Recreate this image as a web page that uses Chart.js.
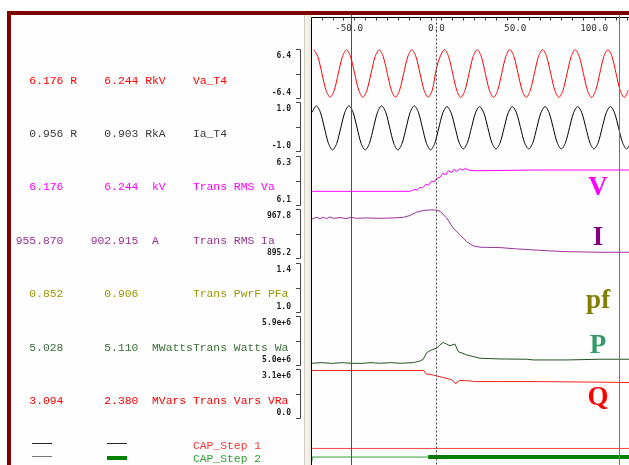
<!DOCTYPE html>
<html>
<head>
<meta charset="utf-8">
<script src="https://cdn.jsdelivr.net/npm/chart.js@4.4.1/dist/chart.umd.min.js"></script>
<style>
  html, body { margin: 0; padding: 0; background: #fff; }
  body { width: 629px; height: 465px; overflow: hidden; position: relative; }
  #frame { position: absolute; left: 7px; top: 11px; width: 640px; height: 470px;
           border-top: 4px solid #800000; border-left: 4px solid #800000; background: #fefefe; }
  #splitter { position: absolute; left: 304px; top: 15px; width: 7.5px; height: 460px;
              background: linear-gradient(to right, #cfcbbf 0, #cfcbbf 1px, #f7f5ee 1px, #ebe8dc 100%); }
  #plot { position: absolute; left: 0; top: 0; }
  .row { position: absolute; left: 15.7px; font-family: 'Liberation Mono', monospace; font-size: 11.37px;
         line-height: 12px; white-space: pre; }
  .mark { position: absolute; }
</style>
</head>
<body>
<div id="frame"></div>
<div id="splitter"></div>
<canvas id="plot" width="629" height="480"></canvas>
<div id="legend"></div>
<script>
// time axis (ms)
const xMin = -76.1, xMax = 117.9;
const xTickLabels = [-50, 0, 50, 100];
const cursorTimes = [-52.3, 111.7];   // cursor A (red), cursor B (blue)
const triggerTime = 0;

// channel table
const channelNames = ['Va_T4', 'Ia_T4', 'Trans RMS Va', 'Trans RMS Ia', 'Trans PwrF PFa', 'Trans Watts Wa', 'Trans Vars VRa'];
const channelUnits = ['kV', 'kA', 'kV', 'A', '', 'MWatts', 'MVars'];
const channelFlags = ['R', 'R', '', '', '', '', ''];
const cursorA = ['6.176', '0.956', '6.176', '955.870', '0.852', '5.028', '3.094'];
const cursorB = ['6.244', '0.903', '6.244', '902.915', '0.906', '5.110', '2.380'];
const bandTop = [6.4, 1.0, 6.3, 967.8, 1.4, 5.9e6, 3.1e6];
const bandBottom = [-6.4, -1.0, 6.1, 895.2, 1.0, 5.0e6, 0.0];
const bandTopLabels = ['6.4', '1.0', '6.3', '967.8', '1.4', '5.9e+6', '3.1e+6'];
const bandBottomLabels = ['-6.4', '-1.0', '6.1', '895.2', '1.0', '5.0e+6', '0.0'];
const tagNames = ['V', 'I', 'pf', 'P', 'Q'];

const capNames = ['CAP_Step 1', 'CAP_Step 2'];
const capStateA = [0, 0];
const capStateB = [0, 1];

// Va_T4
const vaTime = [
  -75, -72.5, -70, -67.5, -65, -62.5, -60, -57.5,
  -55, -52.5, -50, -47.5, -45, -42.5, -40, -37.5,
  -35, -32.5, -30, -27.5, -25, -22.5, -20, -17.5,
  -15, -12.5, -10, -7.5, -5, -2.5, 0, 2.5,
  5, 7.5, 10, 12.5, 15, 17.5, 20, 22.5,
  25, 27.5, 30, 32.5, 35, 37.5, 40, 42.5,
  45, 47.5, 50, 52.5, 55, 57.5, 60, 62.5,
  65, 67.5, 70, 72.5, 75, 77.5, 80, 82.5,
  85, 87.5, 90, 92.5, 95, 97.5, 100, 102.5,
  105, 107.5, 110, 112.5, 115, 117.5];
const vaValues = [
  6.2, 4.38, 0, -4.38, -6.2, -4.38, 0, 4.38,
  6.2, 4.38, 0, -4.38, -6.2, -4.38, 0, 4.38,
  6.2, 4.38, 0, -4.38, -6.2, -4.38, 0, 4.38,
  6.2, 4.38, 0, -4.38, -6.2, -4.38, 1.2, 4.6,
  6.25, 4.42, 0, -4.42, -6.25, -4.42, 0, 4.42,
  6.25, 4.42, 0, -4.42, -6.25, -4.42, 0, 4.42,
  6.25, 4.42, 0, -4.42, -6.25, -4.42, 0, 4.42,
  6.25, 4.42, 0, -4.42, -6.25, -4.42, 0, 4.42,
  6.25, 4.42, 0, -4.42, -6.25, -4.42, 0, 4.42,
  6.25, 4.42, 0, -4.42, -6.25, -4.42];

// Ia_T4
const iaTime = [
  -76, -73.5, -71, -68.5, -66, -63.5, -61, -58.5,
  -56, -53.5, -51, -48.5, -46, -43.5, -41, -38.5,
  -36, -33.5, -31, -28.5, -26, -23.5, -21, -18.5,
  -16, -13.5, -11, -8.5, -6, -3.5, -1, 1.5,
  4, 6.5, 9, 11.5, 14, 16.5, 19, 21.5,
  24, 26.5, 29, 31.5, 34, 36.5, 39, 41.5,
  44, 46.5, 49, 51.5, 54, 56.5, 59, 61.5,
  64, 66.5, 69, 71.5, 74, 76.5, 79, 81.5,
  84, 86.5, 89, 91.5, 94, 96.5, 99, 101.5,
  104, 106.5, 109, 111.5, 114, 116.5, 119];
const iaValues = [
  0.6, 0.86, 0.6, -0.04, -0.68, -0.94, -0.68, -0.04,
  0.6, 0.86, 0.6, -0.04, -0.68, -0.94, -0.68, -0.04,
  0.6, 0.86, 0.6, -0.04, -0.68, -0.94, -0.68, -0.04,
  0.6, 0.86, 0.6, -0.04, -0.68, -0.94, -0.68, -0.04,
  0.58, 0.83, 0.58, -0.03, -0.65, -0.9, -0.65, -0.03,
  0.58, 0.83, 0.58, -0.03, -0.65, -0.9, -0.65, -0.03,
  0.58, 0.83, 0.58, -0.03, -0.65, -0.9, -0.65, -0.03,
  0.58, 0.83, 0.58, -0.03, -0.65, -0.9, -0.65, -0.03,
  0.58, 0.83, 0.58, -0.03, -0.65, -0.9, -0.65, -0.03,
  0.58, 0.83, 0.58, -0.03, -0.65, -0.9, -0.65];

// Trans RMS Va
const vRmsTime = [-76, -16.2, -15.1, -13.1, -11.7, -10.0, -8.4, -6.4, -4.7, -2.9, -1.3, 0.2, 2.2,
  3.9, 5.7, 7.3, 9.4, 10.8, 12.4, 14.4, 16.1, 17.9, 19.5, 23.6, 59.3, 118];
const vRmsValues = [6.155, 6.155, 6.158, 6.163, 6.160, 6.171, 6.169, 6.184, 6.180, 6.197, 6.194, 6.208, 6.212,
  6.229, 6.222, 6.239, 6.231, 6.245, 6.237, 6.247, 6.242, 6.249, 6.242, 6.239, 6.242, 6.242];

// Trans RMS Ia
const iRmsTime = [-76, -73.3, -71.2, -69.2, -67.1, -65.1, -63.1, -59.0, -54.9, -52.3, -48.8, -42.7, -34.5,
  -26.4, -20.3, -16.2, -12.1, -8.0, -2.9, 0.2, 2.2, 6.3, 10.3, 14.4, 18.5, 22.6, 26.7, 39.0, 49.2,
  59.4, 69.6, 79.8, 100.1, 118];
const iRmsValues = [953.4, 955.8, 953.9, 955.8, 953.9, 956.4, 954.3, 955.4, 953.9, 955.8, 954.3, 954.9, 954.3,
  954.9, 955.8, 958.4, 963.3, 965.9, 966.9, 966.3, 964.8, 954.9, 940.0, 929.9, 919.9, 913.5, 911.5, 910.9, 909.0,
  907.5, 906.0, 904.9, 904.0, 904.0];

// Trans PwrF PFa
const pfTime = [-76, -8.0, -7.0, -5.0, -0.5, 1.2, 6.3, 10.5, 12.4, 13.6, 56.0, 57.3, 58.5, 69.5, 70.5, 118];
const pfValues = [0.867, 0.867, 0.885, 0.890, 0.895, 0.912, 0.913, 0.918, 0.929, 0.916, 0.916, 0.913, 0.916,
  0.913, 0.916, 0.916];

// Trans Watts Wa
const pTime = [-76, -70, -64, -58, -52, -46, -40, -34, -28, -22, -14.1, -10.0, -8.0, -5.9, -2.9, 0.2, 2.2,
  4.2, 6.3, 8.3, 11.4, 13.4, 18.5, 26.7, 39.0, 55.3, 59.3, 79.7, 100.1, 118];
const pValues = [5.032e6, 5.043e6, 5.030e6, 5.043e6, 5.032e6, 5.030e6, 5.043e6, 5.032e6, 5.043e6, 5.032e6,
  5.043e6, 5.074e6, 5.106e6, 5.228e6, 5.278e6, 5.310e6, 5.371e6, 5.414e6, 5.384e6, 5.353e6, 5.384e6,
  5.247e6, 5.186e6, 5.124e6, 5.111e6, 5.106e6, 5.093e6, 5.093e6, 5.106e6, 5.106e6];

// Trans Vars VRa
const qTime = [-76, -7.6, -6.4, -1.9, 4.2, 9.4, 12.0, 12.8, 14.4, 20.6, 22.6, 39.0, 59.3, 100.1, 118];
const qValues = [3.03e6, 3.03e6, 2.824e6, 2.741e6, 2.588e6, 2.441e6, 2.186e6, 2.332e6, 2.396e6, 2.377e6,
  2.332e6, 2.332e6, 2.332e6, 2.294e6, 2.268e6];

// digital channels
const cap1Time = [-76, 118];
const cap1Values = [0, 0];
const cap2Time = [-76, -5.0, 118];
const cap2Values = [0, 1, 1];

// styling
const bandIds = ['yVa', 'yIa', 'yVrms', 'yIrms', 'yPf', 'yP', 'yQ'];
const rowColors = ['#ff0000', '#3a3a3a', '#ff00ff', '#993399', '#999900', '#3b6e3b', '#ff0000'];
const capColors = ['#ff3333', '#33a033'];
const tagAxes = ['yVrms', 'yIrms', 'yPf', 'yP', 'yQ'];
const tagLevels = [6.14, 915.0, 1.032, 5.223e6, 0.843e6];
const tagColors = ['#ff00ff', '#800080', '#808000', '#339966', '#ff0000'];
const tagTime = 99;
const BAND_PAD = 0.045;
const AXIS_TOP = 17.5;
const TICK_START = -70.2, TICK_STEP = 20 / 3;

const toPoints = (ts, vs) => ts.map((t, i) => ({ x: t, y: vs[i] }));

const scales = { x: { type: 'linear', display: false, min: xMin, max: xMax } };
bandIds.forEach((id, i) => {
    const span = bandTop[i] - bandBottom[i];
    scales[id] = {
        type: 'linear', display: false, position: 'left', stack: 'bands', stackWeight: 1, weight: 20 - i,
        min: bandBottom[i] - span * BAND_PAD, max: bandTop[i] + span * BAND_PAD
    };
});
scales.yCap1 = { type: 'linear', display: false, position: 'left', stack: 'bands', stackWeight: 0.599, weight: 12, min: -0.15, max: 1 };
scales.yCap2 = { type: 'linear', display: false, position: 'left', stack: 'bands', stackWeight: 0.513, weight: 11, min: -5.2, max: 2.2 };

const line = (data, axis, color, extra) => Object.assign({
    data, yAxisID: axis, borderColor: color, borderWidth: 1, pointRadius: 0, tension: 0, fill: false
}, extra || {});

const overlay = {
    id: 'overlay',
    afterDatasetsDraw(chart) {
        const ctx = chart.ctx, area = chart.chartArea, xs = chart.scales.x;
        const bottom = chart.height;
        ctx.save();

        // plot border
        ctx.strokeStyle = '#000';
        ctx.lineWidth = 1;
        ctx.beginPath();
        ctx.moveTo(area.left - 0.5, AXIS_TOP);
        ctx.lineTo(area.right, AXIS_TOP);
        ctx.moveTo(area.left - 0.5, AXIS_TOP);
        ctx.lineTo(area.left - 0.5, bottom);
        ctx.stroke();

        // time axis ticks and labels
        ctx.strokeStyle = '#333';
        ctx.beginPath();
        for (let t = TICK_START; t <= xMax; t += TICK_STEP) {
            const px = Math.round(xs.getPixelForValue(t)) + 0.5;
            ctx.moveTo(px, AXIS_TOP);
            ctx.lineTo(px, AXIS_TOP + 3);
        }
        ctx.stroke();
        ctx.font = '9.3px "DejaVu Sans Mono"';
        ctx.fillStyle = '#333';
        ctx.textBaseline = 'middle';
        ctx.textAlign = 'left';
        xTickLabels.forEach(v => {
            const label = v.toFixed(1);
            const head = label.slice(0, label.indexOf('.'));
            const px = xs.getPixelForValue(v) - ctx.measureText(head).width - ctx.measureText('.').width / 2;
            ctx.fillText(label, px, 29);
        });

        // trigger and cursors
        ctx.setLineDash([2, 2]);
        ctx.strokeStyle = '#444';
        ctx.beginPath();
        const tx = Math.round(xs.getPixelForValue(triggerTime)) + 0.5;
        ctx.moveTo(tx, AXIS_TOP + 1);
        ctx.lineTo(tx, bottom);
        ctx.stroke();
        ctx.setLineDash([]);
        ['#d4103e', '#4f6ee6'].forEach((c, i) => {
            const cx = Math.round(xs.getPixelForValue(cursorTimes[i])) + 0.5;
            ctx.strokeStyle = c;
            ctx.beginPath();
            ctx.moveTo(cx, 15);
            ctx.lineTo(cx, bottom);
            ctx.stroke();
        });

        // range brackets for every band
        const bx = area.left - 11.5;
        ctx.strokeStyle = '#444';
        ctx.font = 'bold 8px "DejaVu Sans Mono"';
        ctx.fillStyle = '#222';
        ctx.textAlign = 'right';
        bandIds.forEach((id, i) => {
            const s = chart.scales[id];
            const yT = Math.round(s.getPixelForValue(bandTop[i])) + 0.5;
            const yB = Math.round(s.getPixelForValue(bandBottom[i])) + 0.5;
            const yM = Math.round((yT + yB) / 2) + 0.5;
            ctx.beginPath();
            ctx.moveTo(bx - 4.5, yT); ctx.lineTo(bx, yT); ctx.lineTo(bx, yB); ctx.lineTo(bx - 4.5, yB);
            ctx.moveTo(bx - 4.5, yM); ctx.lineTo(bx, yM);
            ctx.stroke();
            ctx.fillText(bandTopLabels[i], bx - 9.5, yT + 6);
            ctx.fillText(bandBottomLabels[i], bx - 9.5, yB - 6);
        });

        // big channel tags
        ctx.font = 'bold 27px "Liberation Serif"';
        ctx.textAlign = 'center';
        ctx.textBaseline = 'alphabetic';
        tagNames.forEach((t, i) => {
            ctx.fillStyle = tagColors[i];
            ctx.fillText(t, xs.getPixelForValue(tagTime), chart.scales[tagAxes[i]].getPixelForValue(tagLevels[i]));
        });
        ctx.restore();
    }
};

const chart = new Chart(document.getElementById('plot'), {
    type: 'line',
    data: {
        datasets: [
            line(toPoints(vaTime, vaValues), 'yVa', '#ff0000', { tension: 0.3 }),
            line(toPoints(iaTime, iaValues), 'yIa', '#000000', { tension: 0.3 }),
            line(toPoints(vRmsTime, vRmsValues), 'yVrms', '#ff00ff'),
            line(toPoints(iRmsTime, iRmsValues), 'yIrms', '#993399'),
            line(toPoints(pfTime, pfValues), 'yPf', '#808000'),
            line(toPoints(pTime, pValues), 'yP', '#225522'),
            line(toPoints(qTime, qValues), 'yQ', '#ff2020'),
            line(toPoints(cap1Time, cap1Values), 'yCap1', '#ff4040'),
            line(toPoints(cap2Time, cap2Values), 'yCap2', '#33a033', {
                stepped: 'after',
                segment: {
                    borderWidth: c => c.p0.parsed.y === 1 ? 4 : 1,
                    borderColor: c => c.p0.parsed.y === 1 ? '#008000' : '#33a033'
                }
            })
        ]
    },
    options: {
        responsive: false,
        animation: false,
        layout: { padding: { top: 46.8, left: 312, right: 0, bottom: 0 } },
        scales,
        plugins: { legend: { display: false }, tooltip: { enabled: false } }
    },
    plugins: [overlay]
});

// readout panel on the left
const legend = document.getElementById('legend');
function addRow(text, color, center) {
    const el = document.createElement('div');
    el.className = 'row';
    el.textContent = text;
    el.style.color = color;
    el.style.top = (center - 5.5) + 'px';
    legend.appendChild(el);
}
function addMark(left, top, width, height, color) {
    const el = document.createElement('div');
    el.className = 'mark';
    Object.assign(el.style, { left: left + 'px', top: top + 'px', width: width + 'px', height: height + 'px', background: color });
    legend.appendChild(el);
}
bandIds.forEach((id, i) => {
    const s = chart.scales[id];
    const mid = (s.getPixelForValue(bandTop[i]) + s.getPixelForValue(bandBottom[i])) / 2;
    const flag = channelFlags[i] ? ' ' + channelFlags[i] : '  ';
    const text = cursorA[i].padStart(7) + flag + '  ' + cursorB[i].padStart(7) + flag +
        channelUnits[i].padEnd(6) + channelNames[i];
    addRow(text, rowColors[i], mid + 6.5);
});
['yCap1', 'yCap2'].forEach((id, i) => {
    const center = chart.scales[id].getPixelForValue(0) - 2.7;
    addRow(' '.repeat(26) + capNames[i], capColors[i], center);
    [[32, capStateA[i]], [107, capStateB[i]]].forEach(([left, state], k) => {
        if (state === 1) addMark(left, center - 2, 20, 4, '#008000');
        else addMark(left, center - 2.5, 20, 1, (i === 1 && k === 0) ? '#777' : '#222');
    });
});
</script>
</body>
</html>
